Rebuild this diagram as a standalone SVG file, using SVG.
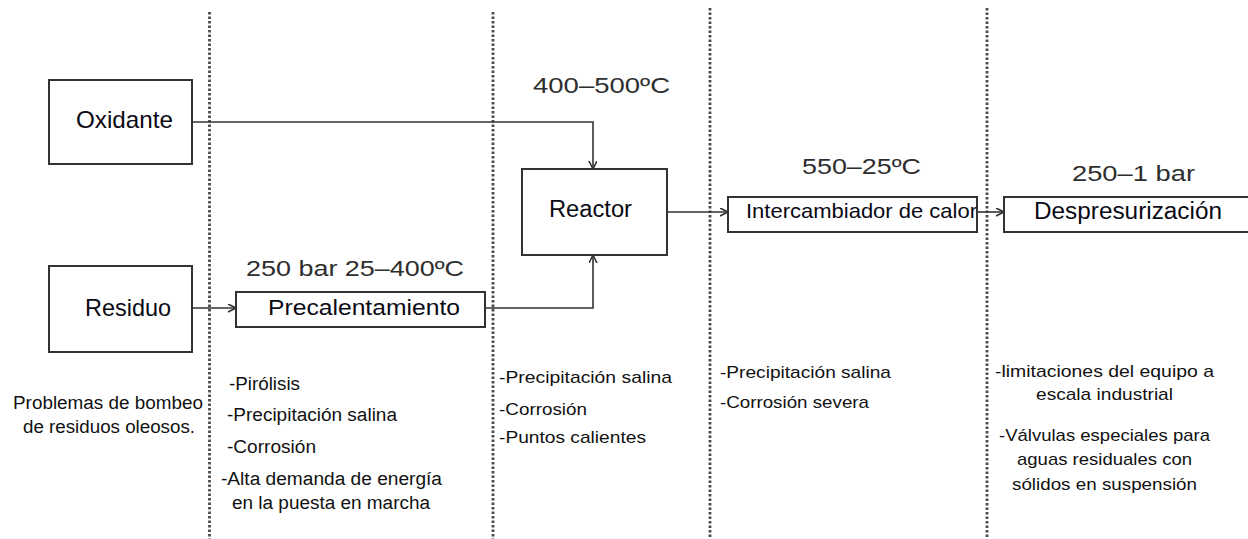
<svg xmlns="http://www.w3.org/2000/svg" width="1248" height="539" viewBox="0 0 1248 539">
<style>
.box{fill:#fff;stroke:#333;stroke-width:2}
.bl{font-family:"Liberation Sans",Arial,sans-serif;fill:#0a0a14}
.lbl{font-family:"Liberation Sans",Arial,sans-serif;font-size:22px;fill:#2e2e2e}
.nt{font-family:"Liberation Sans",Arial,sans-serif;fill:#111}
.sep{stroke:#4a4a4a;stroke-width:2.8;stroke-dasharray:2.5 2;fill:none}
.con{stroke:#333;stroke-width:1.6;fill:none;marker-end:url(#arr)}
</style>
<defs>
<marker id="arr" markerWidth="10" markerHeight="10" refX="8" refY="4" orient="auto" markerUnits="userSpaceOnUse">
<path d="M0,0 L8,4 L0,8" fill="none" stroke="#333" stroke-width="1.6"/>
</marker>
</defs>
<rect width="1248" height="539" fill="#fff"/>
<g id="separators">
<line class="sep" x1="209.5" y1="12" x2="209.5" y2="539"/>
<line class="sep" x1="493" y1="12" x2="493" y2="539"/>
<line class="sep" x1="710" y1="8" x2="710" y2="539"/>
<line class="sep" x1="987" y1="8" x2="987" y2="539"/>
</g>
<g id="connectors">
<path class="con" d="M192,122 H593 V169"/>
<path class="con" d="M192,308 H236"/>
<path class="con" d="M485,308 H593 V255"/>
<path class="con" d="M667,212 H728"/>
<path class="con" d="M977,212 H1004"/>
</g>
<g id="oxidante">
<rect class="box" x="49" y="80" width="143" height="84"/>
<text class="bl" x="76" y="128" font-size="24" textLength="97" lengthAdjust="spacingAndGlyphs">Oxidante</text>
</g>
<g id="residuo">
<rect class="box" x="49" y="266" width="143" height="86"/>
<text class="bl" x="85" y="316" font-size="24" textLength="86" lengthAdjust="spacingAndGlyphs">Residuo</text>
</g>
<g id="precalentamiento">
<rect class="box" x="236" y="292" width="249" height="35"/>
<text class="bl" x="268" y="315" font-size="22" textLength="192" lengthAdjust="spacingAndGlyphs">Precalentamiento</text>
</g>
<g id="reactor">
<rect class="box" x="522" y="169" width="145" height="86"/>
<text class="bl" x="549" y="217" font-size="23" textLength="83" lengthAdjust="spacingAndGlyphs">Reactor</text>
</g>
<g id="intercambiador">
<rect class="box" x="728" y="197" width="249" height="35"/>
<text class="bl" x="746" y="218" font-size="21" textLength="231" lengthAdjust="spacingAndGlyphs">Intercambiador de calor</text>
</g>
<g id="despresurizacion">
<rect class="box" x="1004" y="197" width="250" height="35"/>
<text class="bl" x="1034" y="219" font-size="23" textLength="188" lengthAdjust="spacingAndGlyphs">Despresurización</text>
</g>
<g id="labels">
<text class="lbl" x="533" y="93" textLength="137" lengthAdjust="spacingAndGlyphs">400–500ºC</text>
<text class="lbl" x="246" y="276" textLength="218" lengthAdjust="spacingAndGlyphs">250 bar 25–400ºC</text>
<text class="lbl" x="802" y="174" textLength="119" lengthAdjust="spacingAndGlyphs">550–25ºC</text>
<text class="lbl" x="1072" y="181" textLength="123" lengthAdjust="spacingAndGlyphs">250–1 bar</text>
</g>
<g id="notes">
<text class="nt" font-size="18" x="13" y="409" textLength="190" lengthAdjust="spacingAndGlyphs">Problemas de bombeo</text>
<text class="nt" font-size="18" x="23" y="433" textLength="172" lengthAdjust="spacingAndGlyphs">de residuos oleosos.</text>
<text class="nt" font-size="18" x="229" y="390" textLength="71" lengthAdjust="spacingAndGlyphs">-Pirólisis</text>
<text class="nt" font-size="18" x="227" y="421" textLength="170" lengthAdjust="spacingAndGlyphs">-Precipitación salina</text>
<text class="nt" font-size="18" x="227" y="453" textLength="89" lengthAdjust="spacingAndGlyphs">-Corrosión</text>
<text class="nt" font-size="18" x="221" y="485" textLength="221" lengthAdjust="spacingAndGlyphs">-Alta demanda de energía</text>
<text class="nt" font-size="18" x="232" y="509" textLength="198" lengthAdjust="spacingAndGlyphs">en la puesta en marcha</text>
<text class="nt" font-size="17" x="499" y="383" textLength="173" lengthAdjust="spacingAndGlyphs">-Precipitación salina</text>
<text class="nt" font-size="17" x="499" y="415" textLength="88" lengthAdjust="spacingAndGlyphs">-Corrosión</text>
<text class="nt" font-size="17" x="499" y="443" textLength="147" lengthAdjust="spacingAndGlyphs">-Puntos calientes</text>
<text class="nt" font-size="17" x="720" y="378" textLength="171" lengthAdjust="spacingAndGlyphs">-Precipitación salina</text>
<text class="nt" font-size="17" x="720" y="408" textLength="149" lengthAdjust="spacingAndGlyphs">-Corrosión severa</text>
<text class="nt" font-size="17" x="995" y="377" textLength="219" lengthAdjust="spacingAndGlyphs">-limitaciones del equipo a</text>
<text class="nt" font-size="17" x="1036" y="400" textLength="137" lengthAdjust="spacingAndGlyphs">escala industrial</text>
<text class="nt" font-size="17" x="999" y="441" textLength="211" lengthAdjust="spacingAndGlyphs">-Válvulas especiales para</text>
<text class="nt" font-size="17" x="1017" y="465" textLength="175" lengthAdjust="spacingAndGlyphs">aguas residuales con</text>
<text class="nt" font-size="17" x="1012" y="490" textLength="185" lengthAdjust="spacingAndGlyphs">sólidos en suspensión</text>
</g>
</svg>
